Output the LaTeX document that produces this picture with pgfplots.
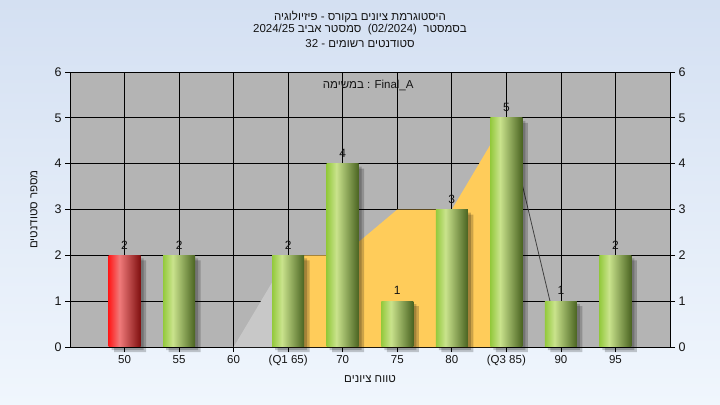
\documentclass[border=0pt]{standalone}
\usepackage{pgfplots}
\pgfplotsset{compat=1.18}
\usepackage{fontspec}
\setmainfont{Liberation Sans}
\newfontfamily\hebfont[Script=Hebrew]{Liberation Sans}
\TeXXeTstate=1
\definecolor{bgtop}{RGB}{212,224,242}
\definecolor{bgbot}{RGB}{240,246,253}
\definecolor{plotbg}{RGB}{180,180,180}
\definecolor{lgray}{RGB}{200,200,200}
\definecolor{qyellow}{RGB}{255,204,90}
\definecolor{txt}{RGB}{20,20,20}
\pgfdeclarehorizontalshading{greenbar}{100bp}{rgb(0bp)=(0.58,0.79,0.24); rgb(25bp)=(0.58,0.79,0.24); rgb(40bp)=(0.79,0.89,0.55); rgb(75bp)=(0.29,0.39,0.13); rgb(100bp)=(0.29,0.39,0.13)}
\pgfdeclarehorizontalshading{redbar}{100bp}{rgb(0bp)=(1,0.1,0.1); rgb(25bp)=(1,0.1,0.1); rgb(42bp)=(0.94,0.48,0.48); rgb(75bp)=(0.5,0.06,0.06); rgb(100bp)=(0.5,0.06,0.06)}
\pgfplotsset{
  mybar/.style={ybar, bar width=32bp, bar shift=0pt, draw=none, shading=#1,
    nodes near coords, every node near coord/.append style={font=\fontsize{12bp}{14bp}\selectfont, text=txt, inner sep=1pt, anchor=south, yshift=5bp}},
  myshadow/.style={ybar, bar width=32bp, bar shift=0pt, fill=black, fill opacity=0.2, draw=none},
}
\begin{document}
\begin{tikzpicture}
\shade[top color=bgtop,bottom color=bgbot] (0,0) rectangle (720bp,405bp);
\begin{axis}[
  at={(70bp,58bp)}, anchor=south west,
  scale only axis, width=600bp, height=275bp,
  xmin=-1, xmax=10, ymin=0, ymax=6,
  xtick={0,...,9},
  xticklabels={50,55,60,(Q1 65),70,75,80,(Q3 85),90,95},
  ytick={0,...,6},
  grid=major, grid style={black, line width=0.8pt},
  axis line style={black, line width=0.8pt},
  tick style={black, line width=0.8pt},
  tick align=outside, major tick length=5bp,
  xtick pos=bottom, ytick pos=left,
  axis background/.style={fill=plotbg},
  clip=false,
  /pgf/number format/assume math mode=true,
  xticklabel style={font=\fontsize{11.5bp}{13bp}\selectfont, text=txt},
  yticklabel style={font=\fontsize{12.5bp}{14bp}\selectfont, text=txt},
  xlabel={\hebfont\beginR טווח ציונים\endR},
  ylabel={\hebfont\beginR מספר סטודנטים\endR},
  xlabel style={at={(axis description cs:0.5,-0.1164)}, anchor=center, font=\fontsize{11.5bp}{13bp}\selectfont, text=txt},
  ylabel style={at={(axis description cs:-0.06,0.5)}, anchor=center, font=\fontsize{11.5bp}{13bp}\selectfont, text=txt},
]
% area (distribution outline)
\addplot[fill=lgray, draw=none] coordinates {(2,0) (3,2)} \closedcycle;
\addplot[fill=qyellow, draw=none] coordinates {(3,2) (4,2) (5,3) (6,3) (7,5)} \closedcycle;
\addplot[draw=black!75, line width=0.8pt] coordinates {(7,5) (8,0)};
% shadows
\addplot[myshadow, xshift=3bp, yshift=-3bp]
  coordinates {(0,2) (1,2) (3,2) (4,4) (5,1) (6,3) (7,5) (8,1) (9,2)};
\addplot[myshadow, xshift=5.5bp, yshift=-5bp]
  coordinates {(0,2) (1,2) (3,2) (4,4) (5,1) (6,3) (7,5) (8,1) (9,2)};
% bars
\addplot[mybar=redbar] coordinates {(0,2)};
\addplot[mybar=greenbar] coordinates {(1,2)};
\addplot[mybar=greenbar] coordinates {(3,2)};
\addplot[mybar=greenbar] coordinates {(4,4)};
\addplot[mybar=greenbar] coordinates {(5,1)};
\addplot[mybar=greenbar] coordinates {(6,3)};
\addplot[mybar=greenbar] coordinates {(7,5)};
\addplot[mybar=greenbar] coordinates {(8,1)};
\addplot[mybar=greenbar] coordinates {(9,2)};
% texts
\node[font=\fontsize{11.5bp}{13bp}\selectfont, text=txt] at (axis description cs:0.497,1) [yshift=-13bp]
  {\hebfont\beginR במשימה\endR{} : Final\_A};
\node[font=\fontsize{11.5bp}{13bp}\selectfont, text=txt] at (axis description cs:0.4833,1) [yshift=55bp]
  {\hebfont\beginR היסטוגרמת ציונים בקורס - פיזיולוגיה\endR};
\node[font=\fontsize{11.5bp}{13bp}\selectfont, text=txt] at (axis description cs:0.4833,1) [yshift=42bp]
  {\hebfont 2024/25 \beginR סמסטר אביב\endR{}\ \ (02/2024)\ \ \beginR בסמסטר\endR};
\node[font=\fontsize{11.5bp}{13bp}\selectfont, text=txt] at (axis description cs:0.4833,1) [yshift=28bp]
  {\hebfont 32 - \beginR סטודנטים רשומים\endR};
\end{axis}
\begin{axis}[
  at={(70bp,58bp)}, anchor=south west,
  scale only axis, width=600bp, height=275bp,
  xmin=-1, xmax=10, ymin=0, ymax=6,
  axis x line=none, axis y line*=right,
  ytick={0,...,6},
  axis line style={black, line width=0.8pt, -},
  tick style={black, line width=0.8pt},
  tick align=outside, major tick length=5bp,
  /pgf/number format/assume math mode=true,
  yticklabel style={font=\fontsize{12.5bp}{14bp}\selectfont, text=txt},
]
\addplot[draw=none] coordinates {(0,0)};
\end{axis}
\pgfresetboundingbox
\path[use as bounding box] (0,0) rectangle (720bp,405bp);
\end{tikzpicture}
\end{document}
